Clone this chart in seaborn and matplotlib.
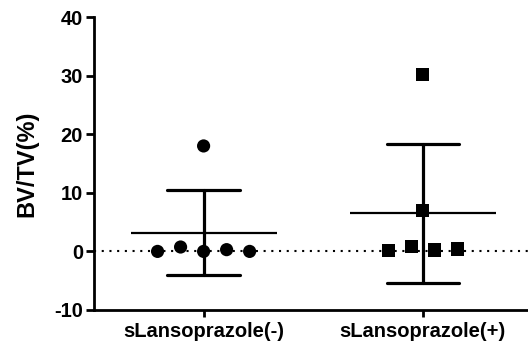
import numpy as np
import pandas as pd
import matplotlib
matplotlib.use("Agg")
import matplotlib.pyplot as plt
import seaborn as sns


groups = ["sLansoprazole(-)", "sLansoprazole(+)"]
neg_values = [0.0, 0.75, 0.0, 18.0, 0.3, 0.0]
pos_values = [0.2, 0.9, 30.2, 7.05, 0.25, 0.4]
y_ticks = [-10, 0, 10, 20, 30, 40]

df = pd.DataFrame(
    {
        "group": [groups[0]] * len(neg_values) + [groups[1]] * len(pos_values),
        "value": neg_values + pos_values,
    }
)

# spread points that sit at about the same height, like a column scatter
df["pos"] = df["group"].map({g: i for i, g in enumerate(groups)})
df["bin"] = np.floor(df["value"] / 3)
rank = df.groupby(["group", "bin"]).cumcount()
count = df.groupby(["group", "bin"])["value"].transform("size")
df["x"] = df["pos"] + (rank - (count - 1) / 2) * 0.105

sns.set_style(
    "ticks",
    {
        "axes.edgecolor": "black",
        "text.color": "black",
        "axes.labelcolor": "black",
        "xtick.color": "black",
        "ytick.color": "black",
    },
)
plt.rcParams["font.family"] = ["Liberation Sans", "DejaVu Sans"]
plt.rcParams["font.weight"] = "bold"
plt.rcParams["axes.unicode_minus"] = False

fig = plt.figure(figsize=(5.28, 3.5), dpi=100)
ax = fig.add_axes([94 / 528, 0.1143, 434 / 528, 0.837])

ax.axhline(0, color="black", linewidth=1.5, linestyle=(0, (1, 2.7)), zorder=1)

sns.scatterplot(
    data=df,
    x="x",
    y="value",
    style="group",
    markers={groups[0]: "o", groups[1]: "s"},
    color="black",
    edgecolor="none",
    s=90,
    legend=False,
    zorder=3,
    ax=ax,
)

sns.pointplot(
    data=df,
    x="group",
    y="value",
    order=groups,
    errorbar="sd",
    capsize=0.33,
    linestyle="none",
    marker="_",
    markersize=105,
    markeredgewidth=1.6,
    color="black",
    err_kws={"linewidth": 2.3},
    zorder=4,
    ax=ax,
)

ax.set_xlim(-0.5, 1.48)
ax.set_ylim(-10, 40)
ax.set_yticks(y_ticks)
ax.set_xticks([0, 1])
ax.set_xticklabels(groups, fontsize=14.5, fontweight="bold")
ax.tick_params(axis="y", labelsize=14.5, width=2, length=6, pad=2)
ax.tick_params(axis="x", width=2, length=5, pad=4)
ax.set_xlabel("")
ax.set_ylabel("BV/TV(%)", fontsize=17, fontweight="bold", labelpad=11)

for side in ["top", "right"]:
    ax.spines[side].set_visible(False)
for side in ["left", "bottom"]:
    ax.spines[side].set_linewidth(2)

fig.savefig("out.png", dpi=100)
